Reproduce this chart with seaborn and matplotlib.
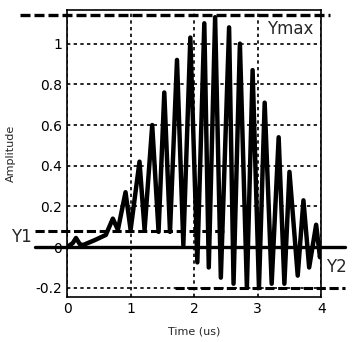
import numpy as np
import pandas as pd
import matplotlib
matplotlib.use('Agg')
import matplotlib.pyplot as plt
import seaborn as sns

# waveform (turning points only)
time_us = [0.0, 0.09, 0.14, 0.2, 0.25, 0.44, 0.61, 0.72, 0.8, 0.92, 1.0, 1.14, 1.22,
           1.34, 1.44, 1.53, 1.62, 1.73, 1.83, 1.94, 2.05, 2.16, 2.23, 2.33, 2.42,
           2.55, 2.62, 2.72, 2.83, 2.92, 3.02, 3.11, 3.22, 3.33, 3.42, 3.5, 3.63,
           3.72, 3.81, 3.92, 3.98, 4.0]
amplitude = [0.0, 0.02, 0.045, 0.015, 0.01, 0.035, 0.06, 0.14, 0.085, 0.27, 0.085, 0.42, 0.085,
             0.6, 0.075, 0.76, 0.075, 0.92, 0.01, 1.03, -0.075, 1.1, -0.1, 1.13, -0.15,
             1.08, -0.18, 1.0, -0.2, 0.87, -0.2, 0.71, -0.18, 0.54, -0.18, 0.37, -0.14,
             0.23, -0.1, 0.11, -0.05, 0.0]

y_max = 1.14
y1 = 0.08
y2 = -0.2

df = pd.DataFrame({'t': time_us, 'amp': amplitude})

sns.set_style('white')
fig = plt.figure(figsize=(3.53, 3.42), dpi=100)
ax = fig.add_axes([0.19, 0.1316, 0.72, 0.839])

sns.lineplot(data=df, x='t', y='amp', ax=ax, color='black', linewidth=3.2, sort=False)

ax.set_xlim(0, 4)
ax.set_ylim(-0.245, 1.165)
ax.set_xticks([0, 1, 2, 3, 4])
ax.set_yticks([-0.2, 0, 0.2, 0.4, 0.6, 0.8, 1])
ax.set_yticklabels(['-0.2', '0', '0.2', '0.4', '0.6', '0.8', '1'])
ax.tick_params(labelsize=10, direction='in', length=3, colors='black')
ax.grid(True, linestyle=(0, (2, 2)), color='black', linewidth=1.2)
for s in ax.spines.values():
    s.set_color('black')
    s.set_linewidth(1.2)

ax.set_xlabel('Time (us)', fontsize=8, labelpad=8)
ax.set_ylabel('Amplitude', fontsize=8, labelpad=14)

# reference lines, running past the axes
dash = (0, (3, 1.2))
ax.plot([-0.74, 4.14], [y_max, y_max], color='black', ls=dash, lw=2.4, clip_on=False)
ax.plot([-0.5, 2.5], [y1, y1], color='black', ls=dash, lw=2.2, clip_on=False)
ax.plot([-0.5, 4.38], [0, 0], color='black', lw=2.4, clip_on=False)
ax.plot([1.7, 4.38], [y2, y2], color='black', ls=dash, lw=2.2, clip_on=False)

ax.text(3.15, 1.07, 'Ymax', fontsize=12, ha='left', va='center')
ax.text(-0.88, 0.05, 'Y1', fontsize=12, ha='left', va='center', clip_on=False)
ax.text(4.08, -0.1, 'Y2', fontsize=12, ha='left', va='center', clip_on=False)

fig.savefig('out.png', dpi=100)
